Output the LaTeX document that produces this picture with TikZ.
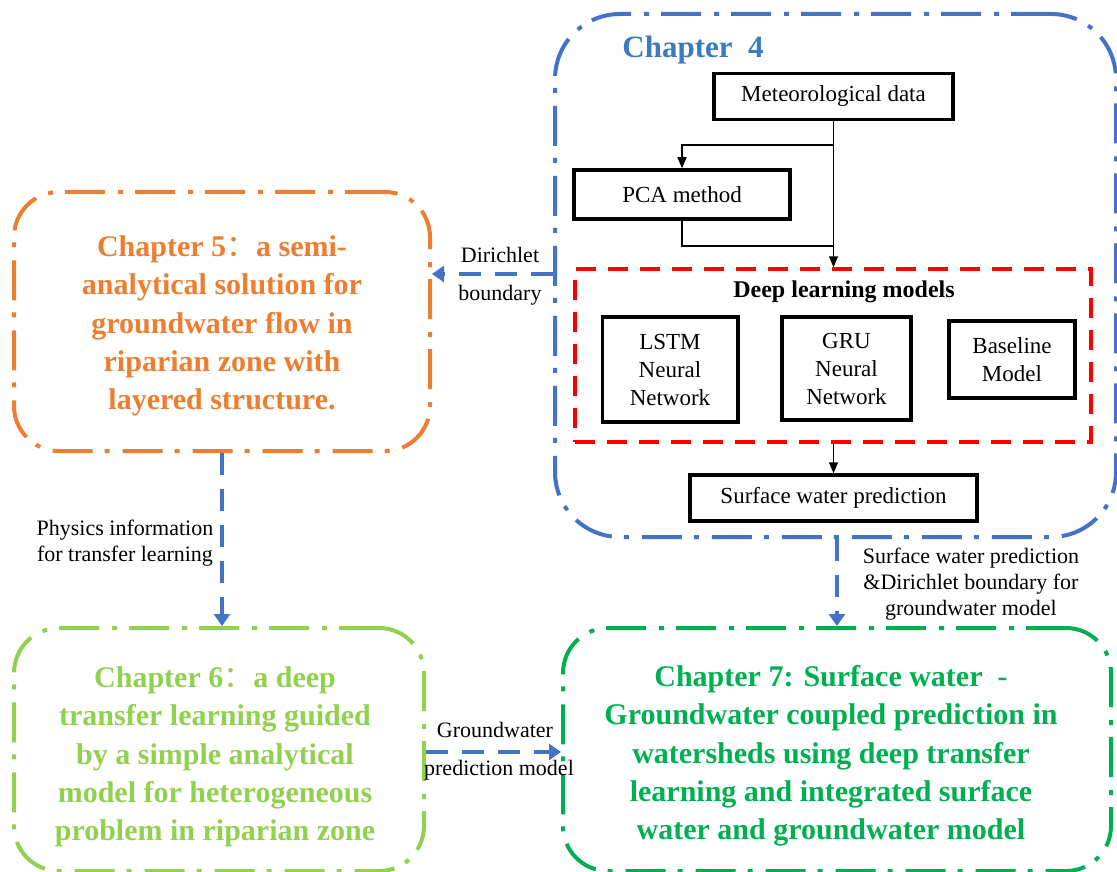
\documentclass[tikz,border=0pt]{standalone}
\usepackage{fontspec}
\setmainfont{Liberation Serif}
\newfontfamily\cjk[BoldFont={Noto Sans CJK SC}]{Noto Sans CJK SC}
\usetikzlibrary{arrows.meta}

\definecolor{chblue}{HTML}{4472C4}
\definecolor{chtitle}{HTML}{3A7BC0}
\definecolor{chorange}{HTML}{ED7D31}
\definecolor{chlime}{HTML}{92D050}
\definecolor{chgreen}{HTML}{00B050}

\tikzset{
  chapterbox/.style={draw, line width=4pt, rounded corners=45pt,
    dash pattern=on 40pt off 12pt on 5pt off 13pt, inner sep=0pt},
  blackbox/.style={draw, line width=3.5pt, inner sep=0pt, align=center,
    font=\fontsize{23}{28}\selectfont},
  chaptertext/.style={align=center, font=\fontsize{30}{38.3}\selectfont\bfseries},
  linklabel/.style={align=center, font=\fontsize{22}{26}\selectfont},
  link/.style={draw=black, line width=1.5pt},
  linkarrow/.style={link, -{Triangle[length=11pt,width=9pt]}},
  flow/.style={draw=chblue, line width=4pt, dash pattern=on 22pt off 14pt,
    -{Triangle[length=12pt,width=16pt]}},
}

\begin{document}
\begin{tikzpicture}[x=1pt,y=-1pt]
\useasboundingbox (0,0) rectangle (1117,872);

% Chapter 4: surface water prediction workflow
\node[chapterbox, draw=chblue, rounded corners=65pt,
      minimum width=561pt, minimum height=523pt] (ch4) at (835.5,275.5) {};
\node[text=chtitle, font=\fontsize{31}{36}\selectfont\bfseries] (ch4title)
      at (693,50) {Chapter\ \ 4};

\node[blackbox, minimum width=239pt, minimum height=46pt] (met) at (833.5,96.5)
      {Meteorological data};
\node[blackbox, minimum width=216pt, minimum height=49pt] (pca) at (682,194.5)
      {PCA method};

\node[draw=red, line width=3.5pt, dash pattern=on 20pt off 12pt, inner sep=0pt,
      minimum width=516pt, minimum height=173pt] (dlm) at (833,355.5) {};
\node[font=\fontsize{24}{28}\selectfont\bfseries] (dlmtitle) at (844,292)
      {Deep learning models};

\node[blackbox, minimum width=135.5pt, minimum height=105pt] (lstm) at (670,369.5)
      {LSTM\\Neural\\Network};
\node[blackbox, minimum width=129pt, minimum height=103pt] (gru) at (846.5,368.5)
      {GRU\\Neural\\Network};
\node[blackbox, minimum width=126pt, minimum height=77pt] (base) at (1012,359.5)
      {Baseline\\Model};

\node[blackbox, minimum width=287pt, minimum height=46pt] (swp) at (833.5,498)
      {Surface water prediction};

% internal connectors
\coordinate (split) at (met.south |- 0,145);
\coordinate (merge) at (met.south |- 0,246);
\draw[linkarrow] (met.south) -- (met.south |- dlm.north);
\draw[linkarrow] (split) -| (pca.north);
\draw[link] (pca.south) |- (merge);
\draw[linkarrow] (dlm.south -| swp.north) -- (swp.north);

% Chapter 5
\node[chapterbox, draw=chorange, minimum width=416pt, minimum height=259pt]
      (ch5) at (222,321.5) {};
\node[chaptertext, text=chorange] (ch5text) at (222,326)
      {Chapter 5{\cjk ：}a semi-\\analytical solution for\\groundwater flow in\\riparian zone with\\layered structure.};

% Chapter 6
\node[chapterbox, draw=chlime, minimum width=410pt, minimum height=243pt]
      (ch6) at (219,749.5) {};
\node[chaptertext, text=chlime] (ch6text) at (215,757)
      {Chapter 6{\cjk ：}a deep\\transfer learning guided\\by a simple analytical\\model for heterogeneous\\problem in riparian zone};

% Chapter 7
\node[chaptertext, text=chgreen] (ch7text) at (831,756)
      {Chapter 7: Surface water \ -\\Groundwater coupled prediction in\\watersheds using deep transfer\\learning and integrated surface\\water and groundwater model};
\node[chapterbox, draw=chgreen, minimum width=548pt, minimum height=243pt]
      (ch7) at (837,749.5) {};

% links between chapters
\draw[flow] (ch4.west |- 0,274) -- (ch5.east |- 0,274);
\node[linklabel] (dirA) at (500,255) {Dirichlet};
\node[linklabel] (dirB) at (500,295) {boundary};

\draw[flow] (ch5.south) -- (ch5.south |- ch6.north);
\node[linklabel] (phys) at (125,543) {Physics information\\for transfer learning};

\draw[flow] (ch6.east |- 0,752) -- (ch7.west |- 0,752);
\node[linklabel] (gwA) at (495,730) {Groundwater};
\node[linklabel] (gwB) at (499,770) {prediction model};

\draw[flow] (ch7.north |- ch4.south) -- (ch7.north);
\node[linklabel] (swlabel) at (971,584)
      {Surface water prediction\\\&Dirichlet boundary for\\groundwater model};
\end{tikzpicture}
\end{document}
